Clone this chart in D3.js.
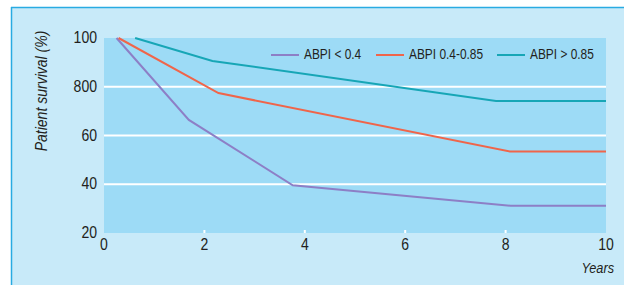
<!DOCTYPE html>
<html>
<head>
  <meta charset="utf-8">
  <script src="https://d3js.org/d3.v7.min.js"></script>
  <style>
    body { margin: 0; background: #fff; }
    text { font-family: "Liberation Sans", Arial, sans-serif; fill: #231f20; }
  </style>
</head>
<body>
<div id="chart"></div>
<script>
// data
var seriesNames = ["ABPI < 0.4", "ABPI 0.4-0.85", "ABPI > 0.85"];
var seriesColors = ["#8d7fc6", "#f0654a", "#17a6b6"];
var years = [
  [0.25, 1.69, 3.76, 8.1, 10],
  [0.29, 2.28, 8.09, 10],
  [0.62, 2.16, 7.81, 10]
];
var survival = [
  [100, 66.4, 39.6, 31.2, 31.2],
  [100, 77.4, 53.4, 53.4],
  [100, 90.6, 74.2, 74.2]
];
var xTicks = [0, 2, 4, 6, 8, 10];
var yTicks = [20, 40, 60, 80, 100];
var yTickLabels = ["20", "40", "60", "800", "100"];

var W = 624, H = 285;
var narrow = 0.85; // condensed look
var svg = d3.select("#chart").append("svg").attr("width", W).attr("height", H);

// helper: condensed text at a point
function label(px, py, str, size, anchor, italic) {
  return svg.append("text")
    .attr("transform", "translate(" + px + "," + py + ") scale(" + narrow + ",1)")
    .attr("text-anchor", anchor || "start")
    .style("font-size", size + "px")
    .style("font-style", italic ? "italic" : "normal")
    .text(str);
}

// outer panel
svg.append("rect").attr("x", 11).attr("y", 7).attr("width", W - 11).attr("height", H - 7)
  .attr("fill", "#c8eaf9");
svg.append("line").attr("x1", 11).attr("x2", W).attr("y1", 7.5).attr("y2", 7.5)
  .attr("stroke", "#29abe2").attr("stroke-width", 1.5);
svg.append("line").attr("x1", 11.5).attr("x2", 11.5).attr("y1", 7).attr("y2", H)
  .attr("stroke", "#29abe2").attr("stroke-width", 1.5);

var x = d3.scaleLinear().domain([0, 10]).range([104, 606]);
var y = d3.scaleLinear().domain([20, 100]).range([233, 38]);

svg.append("rect").attr("x", x(0)).attr("y", y(100))
  .attr("width", x(10) - x(0)).attr("height", y(20) - y(100))
  .attr("fill", "#9ddbf6");

// gridlines
svg.selectAll(".grid").data([40, 60, 80]).enter().append("line")
  .attr("x1", x(0)).attr("x2", x(10))
  .attr("y1", function (d) { return y(d); }).attr("y2", function (d) { return y(d); })
  .attr("stroke", "#fff").attr("stroke-width", 2);

// small tick marks inside the plot bottom
svg.selectAll(".xt").data([2, 4, 6, 8]).enter().append("line")
  .attr("x1", function (d) { return x(d); }).attr("x2", function (d) { return x(d); })
  .attr("y1", y(20)).attr("y2", y(20) - 3)
  .attr("stroke", "#fff").attr("stroke-width", 2);

// tick labels
xTicks.forEach(function (d) { label(x(d), 250, d, 16.5, "middle"); });
yTicks.forEach(function (d, i) { label(97, y(d) + 5, yTickLabels[i], 16.5, "end"); });

// axis titles
svg.append("text").attr("transform", "translate(47,91) rotate(-90) scale(" + narrow + ",1)")
  .attr("text-anchor", "middle").style("font-size", "16.5px").style("font-style", "italic")
  .text("Patient survival (%)");
label(614, 273, "Years", 15, "end", true);

// lines
var line = d3.line().x(function (d) { return x(d[0]); }).y(function (d) { return y(d[1]); });
seriesNames.forEach(function (name, i) {
  var pts = years[i].map(function (v, j) { return [v, survival[i][j]]; });
  svg.append("path").datum(pts).attr("d", line)
    .attr("fill", "none").attr("stroke", seriesColors[i]).attr("stroke-width", 2);
});

// legend
var legX = [271, 376, 497];
seriesNames.forEach(function (name, i) {
  svg.append("line").attr("x1", legX[i]).attr("x2", legX[i] + 28)
    .attr("y1", 55).attr("y2", 55)
    .attr("stroke", seriesColors[i]).attr("stroke-width", 2);
  label(legX[i] + 33, 59, name, 14, "start");
});
</script>
</body>
</html>
